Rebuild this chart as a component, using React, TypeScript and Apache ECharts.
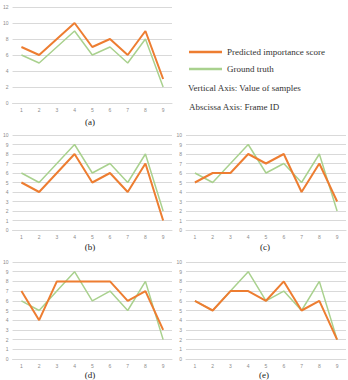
import React, { useEffect, useRef } from "react";
import * as echarts from "echarts";

const frameIds = ["1", "2", "3", "4", "5", "6", "7", "8", "9"];
const groundTruth = [6, 5, 7, 9, 6, 7, 5, 8, 2];
const predictedA = [7, 6, 8, 10, 7, 8, 6, 9, 3];
const predictedB = [5, 4, 6, 8, 5, 6, 4, 7, 1];
const predictedC = [5, 6, 6, 8, 7, 8, 4, 7, 3];
const predictedD = [7, 4, 8, 8, 8, 8, 6, 7, 3];
const predictedE = [6, 5, 7, 7, 6, 8, 5, 6, 2];
const panelLabels = ["(a)", "(b)", "(c)", "(d)", "(e)"];
const panelMax = [12, 10, 10, 10, 10];
const panelInterval = [2, 1, 1, 1, 1];
const seriesNames = ["Predicted importance score", "Ground truth"];
const noteTexts = ["Vertical Axis: Value of samples", "Abscissa Axis: Frame ID"];

const ORANGE = "#ED7D31";
const GREEN = "#A9D18E";
const GRID = "#D9D9D9";
const LABEL = "#8C8C8C";
const SERIF = "'Liberation Serif', 'Times New Roman', serif";

export default function App() {
  const ref = useRef<HTMLDivElement>(null);
  useEffect(() => {
    if (!ref.current) return;
    const chart = echarts.init(ref.current, null, { renderer: "svg" });
    const predicted = [predictedA, predictedB, predictedC, predictedD, predictedE];
    const grids = [
      { left: 12, top: 7, width: 160, height: 96 },
      { left: 12, top: 135, width: 160, height: 95 },
      { left: 186, top: 135, width: 160, height: 95 },
      { left: 12, top: 262, width: 160, height: 97 },
      { left: 186, top: 262, width: 160, height: 97 },
    ];
    const captionPos = [
      [90, 122],
      [90, 247],
      [265, 247],
      [90, 375],
      [264, 375],
    ];
    const xAxis = grids.map((_, i) => ({
      type: "category",
      gridIndex: i,
      data: frameIds,
      boundaryGap: true,
      axisLine: { show: true, lineStyle: { color: GRID, width: 1 } },
      axisTick: { show: false },
      axisLabel: { fontSize: 5, color: LABEL, margin: 4, fontFamily: "Liberation Sans, sans-serif" },
    }));
    const yAxis = grids.map((_, i) => ({
      type: "value",
      gridIndex: i,
      min: 0,
      max: panelMax[i],
      interval: panelInterval[i],
      axisLine: { show: false },
      axisTick: { show: false },
      splitLine: { lineStyle: { color: GRID, width: 1 } },
      axisLabel: { fontSize: 5, color: LABEL, margin: 4, fontFamily: "Liberation Sans, sans-serif" },
    }));
    const series: any[] = [];
    grids.forEach((_, i) => {
      series.push({
        type: "line",
        name: seriesNames[1],
        xAxisIndex: i,
        yAxisIndex: i,
        data: groundTruth,
        symbol: "none",
        lineStyle: { color: GREEN, width: 1.5 },
        z: 2,
      });
      series.push({
        type: "line",
        name: seriesNames[0],
        xAxisIndex: i,
        yAxisIndex: i,
        data: predicted[i],
        symbol: "none",
        lineStyle: { color: ORANGE, width: 2 },
        z: 3,
      });
    });
    const graphic: any[] = [];
    panelLabels.forEach((t, i) => {
      graphic.push({
        type: "text",
        x: captionPos[i][0],
        y: captionPos[i][1],
        style: {
          text: t,
          fontSize: 9,
          fontFamily: SERIF,
          fill: "#222",
          align: "center",
          verticalAlign: "middle",
        },
      });
    });
    const legendColors = [ORANGE, GREEN];
    const legendY = [52, 69];
    seriesNames.forEach((n, i) => {
      graphic.push({
        type: "line",
        shape: { x1: 189, y1: legendY[i], x2: 222, y2: legendY[i] },
        style: { stroke: legendColors[i], lineWidth: 2.5 },
      });
      graphic.push({
        type: "text",
        x: 227,
        y: legendY[i],
        style: {
          text: n,
          fontSize: 9,
          fontFamily: SERIF,
          fill: "#333",
          verticalAlign: "middle",
        },
      });
    });
    const noteY = [88, 107];
    noteTexts.forEach((t, i) => {
      graphic.push({
        type: "text",
        x: 188 + i,
        y: noteY[i],
        style: {
          text: t,
          fontSize: 9,
          fontFamily: SERIF,
          fill: "#333",
          verticalAlign: "middle",
        },
      });
    });
    chart.setOption({
      animation: false,
      backgroundColor: "#fff",
      grid: grids,
      xAxis,
      yAxis,
      series,
      graphic,
    });
    return () => chart.dispose();
  }, []);
  return (
    <div
      ref={ref}
      style={{ position: "fixed", left: 0, top: 0, width: 348, height: 380 }}
    />
  );
}
